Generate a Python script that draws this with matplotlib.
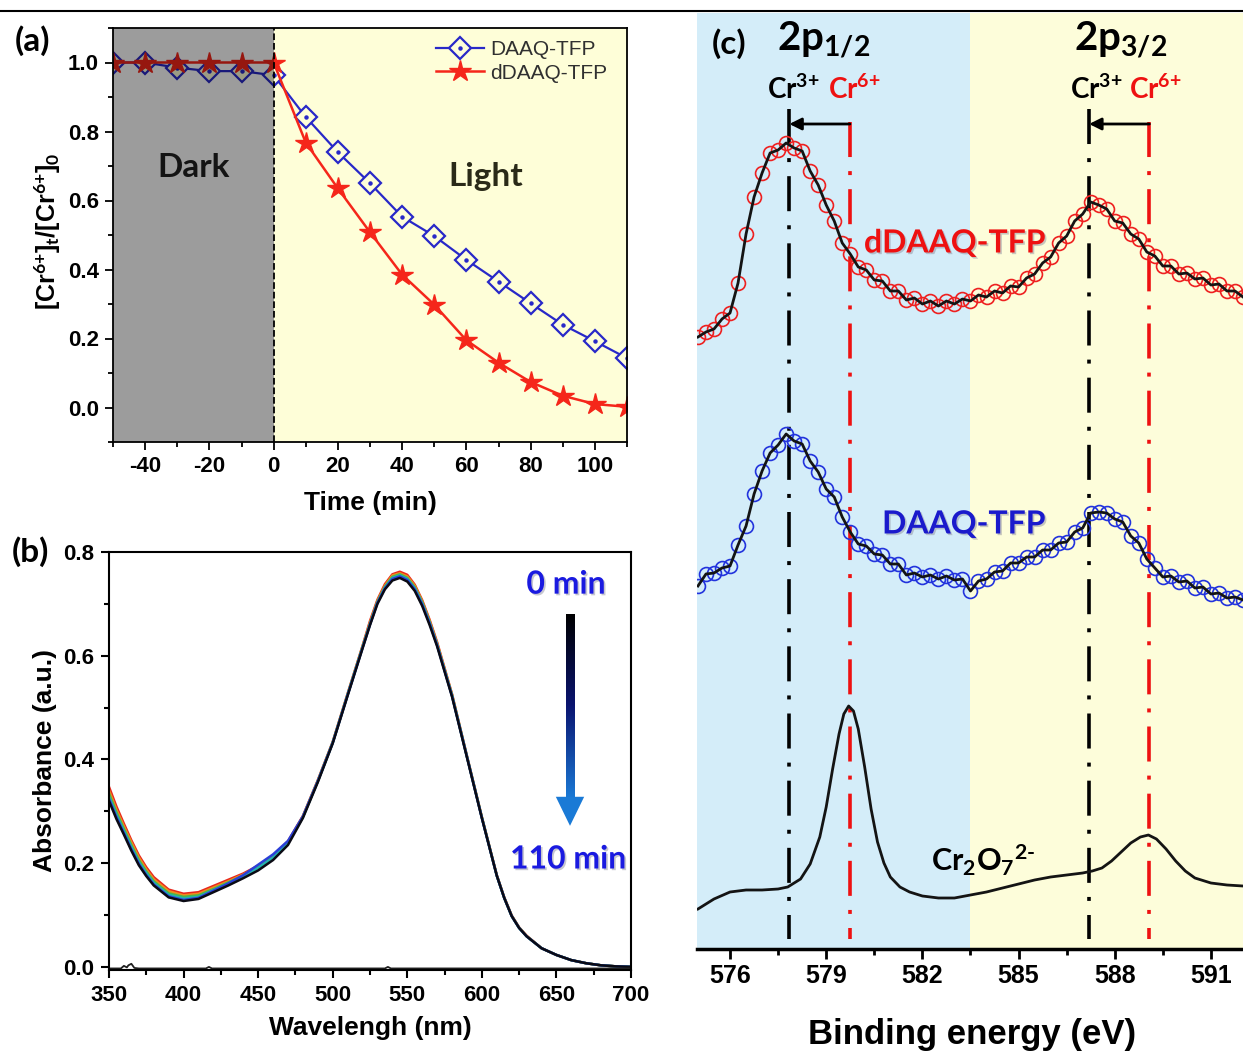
import matplotlib
matplotlib.use('Agg')
import matplotlib.pyplot as plt
import numpy as np
from matplotlib.colors import LinearSegmentedColormap
from matplotlib.patches import Polygon
from matplotlib.lines import Line2D
from matplotlib.ticker import MultipleLocator
import matplotlib.patheffects as pe

plt.rcParams['font.family'] = ['Liberation Sans', 'DejaVu Sans']
plt.rcParams['font.weight'] = 'bold'
plt.rcParams['axes.unicode_minus'] = False
plt.rcParams['mathtext.fontset'] = 'custom'
plt.rcParams['mathtext.rm'] = 'Lato'
plt.rcParams['mathtext.bf'] = 'Lato:bold'
plt.rcParams['mathtext.it'] = 'Lato:italic'
plt.rcParams['mathtext.default'] = 'bf'

# ---------------- data: panel (a) ----------------
time_min = [-50, -40, -30, -20, -10, 0, 10, 20, 30, 40, 50, 60, 70, 80, 90, 100, 110]
daaq_ratio = [1.00, 1.00, 0.985, 0.975, 0.975, 0.963, 0.842, 0.740, 0.650, 0.553, 0.497,
              0.428, 0.365, 0.302, 0.240, 0.192, 0.143]
ddaaq_ratio = [1.00, 1.00, 1.00, 1.00, 1.00, 1.00, 0.768, 0.635, 0.508, 0.385, 0.298,
               0.195, 0.130, 0.074, 0.034, 0.010, 0.002]

# ---------------- data: panel (b) ----------------
wavelength = [350, 355, 360, 365, 370, 375, 380,
              390, 400, 410, 420, 430, 440, 450, 460, 470, 480, 490, 500, 510, 520,
              525, 530, 535, 540, 545, 550, 555, 560, 565, 570,
              580, 590, 600, 610,
              615, 620, 625, 630,
              640, 650, 660, 670, 680, 690, 700]
abs_0min = [0.347, 0.309, 0.276, 0.244, 0.215, 0.192, 0.173,
            0.149, 0.141, 0.144, 0.156, 0.168, 0.180, 0.195, 0.214, 0.242, 0.291, 0.360, 0.434, 0.527, 0.619,
            0.667, 0.708, 0.738, 0.757, 0.762, 0.756, 0.737, 0.707, 0.669, 0.626,
            0.526, 0.407, 0.289, 0.177,
            0.134, 0.099, 0.076, 0.060,
            0.036, 0.023, 0.013, 0.007, 0.003, 0.001, 0.000]
abs_20min = [0.340, 0.303, 0.271, 0.240, 0.211, 0.188, 0.169,
             0.146, 0.138, 0.141, 0.153, 0.165, 0.178, 0.193, 0.212, 0.240, 0.290, 0.359, 0.433, 0.526, 0.618,
             0.664, 0.706, 0.735, 0.755, 0.759, 0.753, 0.735, 0.705, 0.667, 0.624,
             0.525, 0.406, 0.289, 0.177,
             0.134, 0.099, 0.076, 0.060,
             0.036, 0.023, 0.013, 0.007, 0.003, 0.001, 0.000]
abs_40min = [0.334, 0.298, 0.266, 0.235, 0.206, 0.184, 0.165,
             0.142, 0.135, 0.138, 0.150, 0.163, 0.176, 0.192, 0.211, 0.239, 0.289, 0.358, 0.433, 0.525, 0.617,
             0.662, 0.704, 0.733, 0.752, 0.757, 0.750, 0.732, 0.703, 0.665, 0.622,
             0.524, 0.406, 0.288, 0.176,
             0.133, 0.098, 0.075, 0.059,
             0.036, 0.023, 0.013, 0.007, 0.003, 0.001, 0.000]
abs_60min = [0.328, 0.293, 0.262, 0.231, 0.202, 0.181, 0.162,
             0.139, 0.132, 0.135, 0.148, 0.161, 0.175, 0.191, 0.211, 0.239, 0.289, 0.358, 0.432, 0.525, 0.616,
             0.661, 0.703, 0.731, 0.750, 0.755, 0.748, 0.730, 0.701, 0.663, 0.621,
             0.523, 0.405, 0.288, 0.176,
             0.133, 0.098, 0.075, 0.059,
             0.036, 0.023, 0.013, 0.007, 0.003, 0.001, 0.000]
abs_80min = [0.324, 0.289, 0.258, 0.227, 0.199, 0.177, 0.159,
             0.136, 0.129, 0.133, 0.147, 0.161, 0.177, 0.197, 0.217, 0.243, 0.290, 0.358, 0.432, 0.524, 0.615,
             0.660, 0.702, 0.730, 0.748, 0.753, 0.746, 0.728, 0.699, 0.662, 0.620,
             0.522, 0.405, 0.287, 0.176,
             0.133, 0.098, 0.075, 0.059,
             0.036, 0.023, 0.013, 0.007, 0.003, 0.001, 0.000]
abs_110min = [0.320, 0.285, 0.255, 0.224, 0.196, 0.175, 0.157,
              0.134, 0.127, 0.131, 0.144, 0.157, 0.171, 0.186, 0.206, 0.235, 0.287, 0.356, 0.431, 0.523, 0.614,
              0.659, 0.700, 0.728, 0.745, 0.750, 0.743, 0.725, 0.696, 0.659, 0.618,
              0.521, 0.404, 0.287, 0.176,
              0.133, 0.098, 0.075, 0.059,
              0.036, 0.023, 0.013, 0.007, 0.003, 0.001, 0.000]
spectra = [abs_0min, abs_20min, abs_40min, abs_60min, abs_80min, abs_110min]
spectra_colors = ['#e8261c', '#f08a1c', '#4cb648', '#22b3b0', '#2a3fd8', '#0a0a14']
baseline_wl = [350, 358, 360, 362, 363, 365, 367, 370, 415, 417, 419, 535, 537, 539, 700]
baseline_abs = [-0.003, -0.003, 0.002, -0.001, 0.003, 0.006, -0.002, -0.003, -0.003, 0.000,
                -0.003, -0.003, 0.000, -0.003, -0.003]

# ---------------- data: panel (c) ----------------
be_grid = [575.00, 575.25, 575.50, 575.75, 576.00, 576.25, 576.50, 576.75, 577.00, 577.25,
           577.50, 577.75, 578.00, 578.25, 578.50, 578.75, 579.00, 579.25, 579.50, 579.75,
           580.00, 580.25, 580.50, 580.75, 581.00, 581.25, 581.50, 581.75, 582.00, 582.25,
           582.50, 582.75, 583.00, 583.25, 583.50, 583.75, 584.00, 584.25, 584.50, 584.75,
           585.00, 585.25, 585.50, 585.75, 586.00, 586.25, 586.50, 586.75, 587.00, 587.25,
           587.50, 587.75, 588.00, 588.25, 588.50, 588.75, 589.00, 589.25, 589.50, 589.75,
           590.00, 590.25, 590.50, 590.75, 591.00, 591.25, 591.50, 591.75, 592.00]
ddaaq_xps = [6.12, 6.17, 6.20, 6.30, 6.36, 6.66, 7.15, 7.52, 7.76, 7.96,
             7.99, 8.06, 8.01, 7.98, 7.78, 7.64, 7.44, 7.28, 7.06, 6.95,
             6.82, 6.79, 6.69, 6.68, 6.58, 6.58, 6.49, 6.51, 6.45, 6.48,
             6.43, 6.48, 6.45, 6.50, 6.48, 6.54, 6.52, 6.58, 6.56, 6.63,
             6.62, 6.71, 6.75, 6.86, 6.92, 7.06, 7.13, 7.28, 7.35, 7.47,
             7.44, 7.40, 7.28, 7.26, 7.15, 7.10, 6.97, 6.93, 6.83, 6.83,
             6.75, 6.76, 6.70, 6.71, 6.64, 6.65, 6.58, 6.58, 6.52]
daaq_xps = [3.63, 3.75, 3.76, 3.81, 3.83, 4.04, 4.23, 4.55, 4.78, 4.96,
            5.04, 5.15, 5.08, 5.05, 4.88, 4.77, 4.60, 4.52, 4.32, 4.17,
            4.05, 4.03, 3.95, 3.94, 3.85, 3.85, 3.74, 3.76, 3.72, 3.74,
            3.70, 3.73, 3.69, 3.70, 3.58, 3.68, 3.70, 3.77, 3.78, 3.86,
            3.86, 3.92, 3.92, 3.99, 3.99, 4.06, 4.07, 4.17, 4.21, 4.36,
            4.37, 4.36, 4.30, 4.27, 4.13, 4.06, 3.90, 3.81, 3.72, 3.73,
            3.67, 3.68, 3.61, 3.62, 3.55, 3.56, 3.51, 3.52, 3.49]
cr2o7_be = [575.0, 575.5, 576.0, 576.5, 577.0, 577.5, 577.8, 578.2, 578.5, 578.8, 579.0, 579.2,
            579.4, 579.55, 579.7, 579.85, 580.0, 580.2, 580.4, 580.6, 580.8, 581.0, 581.3, 581.6,
            582.0, 582.5, 583.0, 583.5, 584.0, 584.5, 585.0, 585.5, 586.0, 586.5, 587.0, 587.3,
            587.6, 587.9, 588.2, 588.5, 588.8, 589.05, 589.3, 589.6, 589.9, 590.2, 590.5, 591.0,
            591.5, 592.0]
cr2o7_xps = [0.40, 0.50, 0.57, 0.59, 0.59, 0.60, 0.62, 0.70, 0.85, 1.12, 1.42, 1.80,
             2.15, 2.35, 2.43, 2.38, 2.20, 1.82, 1.40, 1.07, 0.86, 0.72, 0.62, 0.57,
             0.53, 0.51, 0.51, 0.54, 0.57, 0.61, 0.65, 0.69, 0.72, 0.74, 0.76, 0.78,
             0.81, 0.88, 0.97, 1.06, 1.12, 1.14, 1.10, 1.00, 0.88, 0.78, 0.71, 0.66,
             0.64, 0.63]
cr3_lines = [577.85, 587.20]
cr6_lines = [579.74, 589.08]

# ---------------- figure ----------------
W, H = 1243, 1051
fig = plt.figure(figsize=(W / 100, H / 100), dpi=100)


def add_ax(l, t, r, b):
    return fig.add_axes([l / W, 1 - b / H, (r - l) / W, (b - t) / H])


fig.add_artist(Line2D([0, 1], [1 - 11 / H, 1 - 11 / H], color='k', lw=1.5,
                      transform=fig.transFigure))

CAL = 'Lato'
BLUE = '#2828c8'
RED = '#f5261a'
YEL = '#fefed8'

# ---------------- panel (a) ----------------
axa = add_ax(113, 28, 627, 442)
axa.set_facecolor('white')
axa.axvspan(0, 110, color=YEL, zorder=0, lw=0)
l_daaq, = axa.plot(time_min, daaq_ratio, color=BLUE, lw=1.6, marker='D', ms=11,
                   mfc=YEL, mec=BLUE, mew=1.6, zorder=3)
l_dot, = axa.plot(time_min, daaq_ratio, ls='none', marker='o', ms=2.2, color=BLUE, zorder=4)
l_red, = axa.plot(time_min, ddaaq_ratio, color=RED, lw=1.8, marker='*', ms=16,
                  mfc=RED, mec=RED, zorder=5)
axa.axvspan(-50, 0, color='black', alpha=0.39, zorder=6, lw=0)
axa.axvline(0, color='k', ls='--', lw=1.3, zorder=7)
axa.set_xlim(-50, 110)
axa.set_ylim(-0.1, 1.1)
axa.text(-25, 0.695, 'Dark', fontsize=24, family=CAL, weight='bold', color='#141414',
         ha='center', va='center', zorder=8)
axa.text(66, 0.67, 'Light', fontsize=24, family=CAL, weight='bold', color='#2a2a18',
         ha='center', va='center', zorder=8)
axa.set_xticks([-40, -20, 0, 20, 40, 60, 80, 100])
axa.xaxis.set_minor_locator(MultipleLocator(10))
axa.yaxis.set_major_locator(MultipleLocator(0.2))
axa.yaxis.set_minor_locator(MultipleLocator(0.1))
axa.tick_params(which='both', direction='out', width=1.3, labelsize=16, pad=4)
axa.tick_params(which='major', length=6)
axa.tick_params(which='minor', length=3.5)
for s in axa.spines.values():
    s.set_linewidth(1.3)
    s.set_zorder(9)
axa.text(0.5, -0.147, 'Time (min)', transform=axa.transAxes, ha='center', va='center',
         fontsize=19, weight='bold')
axa.text(-0.128, 0.51, r'[Cr$^{6{+}}$]$_t$/[Cr$^{6{+}}$]$_0$', transform=axa.transAxes,
         rotation=90, ha='center', va='center', fontsize=18, weight='bold')
leg = axa.legend([(l_daaq, l_dot), l_red], ['DAAQ-TFP', 'dDAAQ-TFP'], loc='upper left',
                 bbox_to_anchor=(0.612, 0.99), frameon=False, handlelength=2.3,
                 handletextpad=0.3, labelspacing=0.2, borderaxespad=0,
                 prop={'family': 'Liberation Sans', 'weight': 'normal', 'size': 15},
                 labelcolor='#303030')
leg.set_zorder(10)
fig.text(33 / W, 1 - 41 / H, '(a)', fontsize=24, family=CAL, weight='bold',
         ha='center', va='center')

# ---------------- panel (b) ----------------
axb = add_ax(109, 552, 631, 970)
for spec, col in zip(spectra, spectra_colors):
    axb.plot(wavelength, spec, color=col, lw=1.8)
axb.plot(baseline_wl, baseline_abs, color='#202020', lw=1.3)
shadow = [pe.withSimplePatchShadow(offset=(1.2, -1.2), shadow_rgbFace='#9090a0', alpha=0.5)]
axb.text(656.4, 0.738, '0 min', fontsize=23, family=CAL, weight='bold', color='#1a1ae0',
         ha='center', va='center', path_effects=shadow)
axb.text(657.8, 0.208, '110 min', fontsize=23, family=CAL, weight='bold', color='#1a1ae0',
         ha='center', va='center', path_effects=shadow)
# gradient arrow (black -> blue)
ax_x = 659.1
cmap = LinearSegmentedColormap.from_list('arr', ['#000000', '#0a1470', '#1a78d4'])
grad = np.linspace(0, 1, 256).reshape(-1, 1)
axb.imshow(grad, cmap=cmap, extent=[ax_x - 3.0, ax_x + 3.0, 0.327, 0.678], aspect='auto',
           origin='upper', interpolation='bilinear', zorder=3)
axb.add_patch(Polygon([(ax_x - 9.5, 0.328), (ax_x + 9.5, 0.328), (ax_x, 0.272)],
                      closed=True, color='#1a7ad6', lw=0, zorder=3))
axb.set_xlim(350, 700)
axb.set_ylim(-0.006, 0.8)
axb.set_aspect('auto')
axb.xaxis.set_major_locator(MultipleLocator(50))
axb.xaxis.set_minor_locator(MultipleLocator(25))
axb.yaxis.set_major_locator(MultipleLocator(0.2))
axb.yaxis.set_minor_locator(MultipleLocator(0.1))
axb.tick_params(which='both', direction='out', width=1.5, labelsize=16, pad=5)
axb.tick_params(which='major', length=6)
axb.tick_params(which='minor', length=3.5)
for s in axb.spines.values():
    s.set_linewidth(1.5)
axb.text(0.5, -0.139, 'Wavelengh (nm)', transform=axb.transAxes, ha='center', va='center',
         fontsize=19, weight='bold')
axb.text(-0.123, 0.5, 'Absorbance (a.u.)', transform=axb.transAxes, rotation=90,
         ha='center', va='center', fontsize=19, weight='bold')
fig.text(30 / W, 1 - 552 / H, '(b)', fontsize=24, family=CAL, weight='bold',
         ha='center', va='center')

# ---------------- panel (c) ----------------
axc = add_ax(697, 13, 1243, 949)
axc.axvspan(574.97, 583.5, color='#d4edf9', lw=0, zorder=0)
axc.axvspan(583.5, 592.0, color='#fdfdda', lw=0, zorder=0)
for s in ['left', 'right', 'top']:
    axc.spines[s].set_visible(False)
axc.spines['bottom'].set_linewidth(2.5)
axc.set_yticks([])

dash = (9.7, 3.9, 1.1, 3.9)
for x in cr3_lines:
    axc.plot([x, x], [8.40, 0.10], color='k', lw=2.6, dashes=dash, zorder=2)
for x in cr6_lines:
    axc.plot([x, x], [8.27, 0.10], color='#ee1111', lw=2.6, dashes=dash, zorder=2)
for x3, x6 in zip(cr3_lines, cr6_lines):
    axc.annotate('', xy=(x3, 8.25), xytext=(x6, 8.25),
                 arrowprops=dict(arrowstyle='-|>', color='k', lw=2, mutation_scale=18,
                                 shrinkA=0, shrinkB=0), zorder=3)

axc.plot(be_grid, ddaaq_xps, ls='none', marker='o', ms=10, mfc='none', mec='#ee2020',
         mew=1.2, zorder=4)
axc.plot(be_grid, ddaaq_xps, color='#141414', lw=2.0, zorder=5)
axc.plot(be_grid, daaq_xps, ls='none', marker='o', ms=10, mfc='none', mec='#2233dd',
         mew=1.2, zorder=4)
axc.plot(be_grid, daaq_xps, color='#141414', lw=2.0, zorder=5)
axc.plot(cr2o7_be, cr2o7_xps, color='#141414', lw=2.0, zorder=5)
axc.set_xlim(574.97, 592.0)
axc.set_ylim(0, 9.36)
axc.set_xticks([576, 579, 582, 585, 588, 591])
axc.xaxis.set_minor_locator(MultipleLocator(1.5))
axc.tick_params(which='both', direction='out', width=2, labelsize=18, pad=4)
axc.tick_params(which='major', length=7)
axc.tick_params(which='minor', length=4)

axc.text(575.97, 9.05, '(c)', fontsize=24, family=CAL, weight='bold', ha='center', va='center')
axc.text(578.93, 9.09, r'2p$_{1/2}$', fontsize=29, family=CAL, weight='bold',
         ha='center', va='center')
axc.text(588.19, 9.09, r'2p$_{3/2}$', fontsize=29, family=CAL, weight='bold',
         ha='center', va='center')
for xc3, xc6 in [(577.96, 579.87), (587.41, 589.28)]:
    axc.text(xc3, 8.60, r'Cr$^{3{+}}$', fontsize=20, family=CAL, weight='bold', color='k',
             ha='center', va='center')
    axc.text(xc6, 8.60, r'Cr$^{6{+}}$', fontsize=20, family=CAL, weight='bold', color='#ee1111',
             ha='center', va='center')
axc.text(583.02, 7.06, 'dDAAQ-TFP', fontsize=23, family=CAL, weight='bold', color='#ee1111',
         ha='center', va='center', zorder=6, path_effects=shadow)
axc.text(583.30, 4.25, 'DAAQ-TFP', fontsize=23, family=CAL, weight='bold', color='#1a1acc',
         ha='center', va='center', zorder=6, path_effects=shadow)
axc.text(583.89, 0.89, r'Cr$_2$O$_7$$^{2\text{-}}$', fontsize=22, family=CAL, weight='bold',
         color='k', ha='center', va='center', zorder=6)
axc.text(0.504, -0.091, 'Binding energy (eV)', transform=axc.transAxes, ha='center',
         va='center', fontsize=25, weight='bold')

fig.savefig('out.png', dpi=100)
